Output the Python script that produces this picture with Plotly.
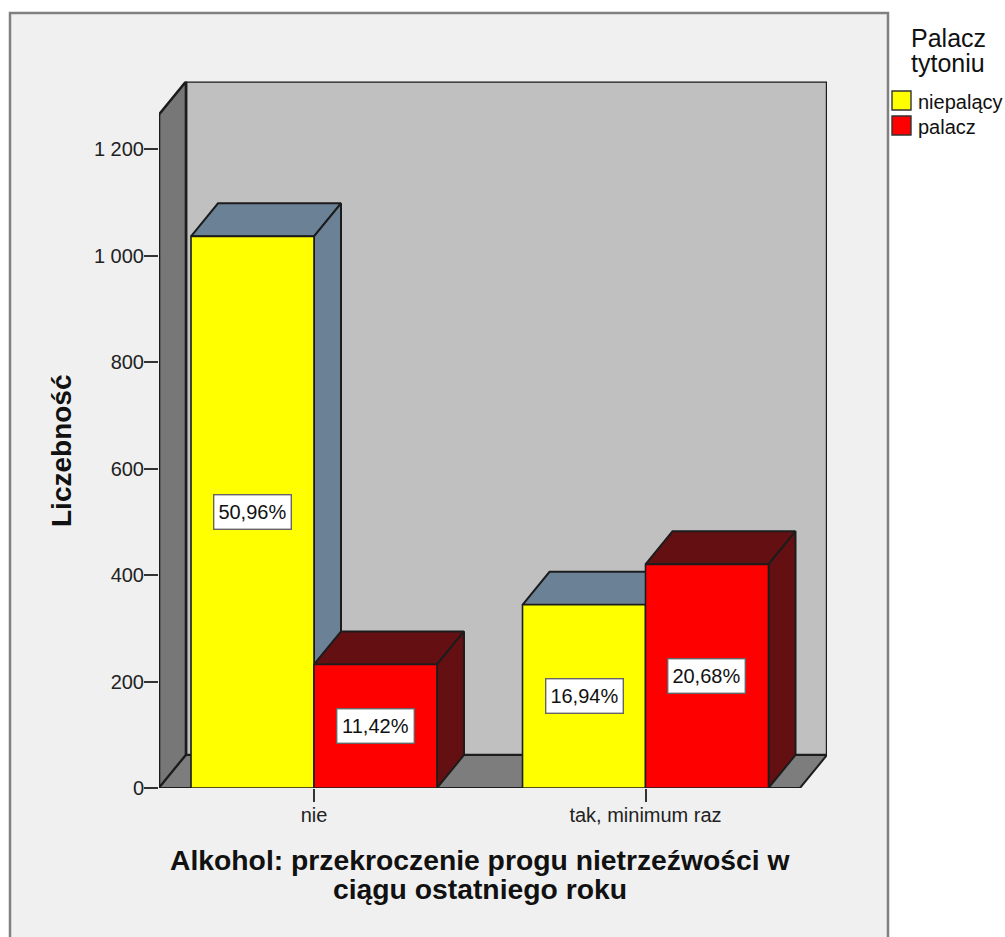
import plotly.graph_objects as go

categories = ["nie", "tak, minimum raz"]
series_names = ["niepalący", "palacz"]
nonsmoker = [1036, 344]
smoker = [232, 420]
nonsmoker_pct = ["50,96%", "16,94%"]
smoker_pct = ["11,42%", "20,68%"]
y_ticks = [0, 200, 400, 600, 800, 1000, 1200]
y_tick_labels = ["0", "200", "400", "600", "800", "1 000", "1 200"]
x_title_lines = ["Alkohol: przekroczenie progu nietrzeźwości w", "ciągu ostatniego roku"]
legend_title_lines = ["Palacz", "tytoniu"]

W, H = 1005, 937
PX_L, PX_R, PX_T, PX_B = 159, 827, 81.5, 788
CAT_SPACING = 331.5          # px between categories
VAL_PX = 0.5325              # px per count
BAR_W = 0.371                # category units
DX = 27 / CAT_SPACING        # 3D depth in category units
DY = 33 / VAL_PX             # 3D depth in count units
X_MIN = (PX_L - 314) / CAT_SPACING
X_MAX = (PX_R - 314) / CAT_SPACING
Y_MAX = (PX_B - PX_T) / VAL_PX
WALL_H = Y_MAX - DY
FRONT_R = X_MAX - DX

EDGE = "#1c1c1c"
COL_FRONT = ["#ffff00", "#ff0000"]
COL_SIDE = ["#6b8196", "#640f12"]


def poly(xs, ys, fill, width=2, edge=EDGE):
    return go.Scatter(
        x=xs, y=ys, mode="lines", fill="toself", fillcolor=fill,
        line=dict(color=edge, width=width), hoverinfo="skip",
        showlegend=False, cliponaxis=False, xaxis="x", yaxis="y",
    )


def note(px, py, text, size, **kw):
    fig.add_annotation(xref="paper", yref="paper", x=px / W, y=(H - py) / H, text=text,
                       showarrow=False, yanchor="middle",
                       xanchor=kw.pop("xanchor", "center"),
                       font=dict(size=size, color="#111111"), **kw)


fig = go.Figure()

# walls and floor
fig.add_trace(poly([X_MIN + DX, X_MAX, X_MAX, X_MIN + DX, X_MIN + DX],
                   [DY, DY, Y_MAX, Y_MAX, DY], "#c0c0c0", 2.4))
fig.add_trace(poly([X_MIN, X_MIN + DX, X_MIN + DX, X_MIN, X_MIN],
                   [0, DY, Y_MAX, WALL_H, 0], "#777777", 2.6))
fig.add_trace(poly([X_MIN, X_MIN + DX, X_MAX, FRONT_R, X_MIN],
                   [0, DY, DY, 0, 0], "#7d7d7d", 2))

# top and side faces of each bar
for s, vals in enumerate([nonsmoker, smoker]):
    for c, v in enumerate(vals):
        x0 = c - BAR_W + s * BAR_W
        x1 = x0 + BAR_W
        fig.add_trace(poly([x0, x0 + DX, x1 + DX, x1, x0],
                           [v, v + DY, v + DY, v, v], COL_SIDE[s]))
        fig.add_trace(poly([x1, x1 + DX, x1 + DX, x1, x1],
                           [0, DY, v + DY, v, 0], COL_SIDE[s]))

# front faces on an overlaid subplot so they cover the side faces
for s, (name, vals) in enumerate(zip(series_names, [nonsmoker, smoker])):
    fig.add_trace(go.Bar(
        x=[0, 1], y=vals, name=name, width=BAR_W,
        offset=-BAR_W if s == 0 else 0,
        marker=dict(color=COL_FRONT[s], line=dict(color=EDGE, width=1.6)),
        cliponaxis=False, xaxis="x2", yaxis="y2", showlegend=False,
        hovertemplate="%{y}<extra>" + name + "</extra>",
    ))

dom_x = [PX_L / W, PX_R / W]
dom_y = [(H - PX_B) / H, (H - PX_T) / H]
axis_font = dict(family="Liberation Sans", color="#222222")

fig.update_layout(
    width=W, height=H, margin=dict(l=0, r=0, t=0, b=0, autoexpand=False),
    paper_bgcolor="white", plot_bgcolor="rgba(0,0,0,0)",
    font=dict(family="Liberation Sans", color="#111111"),
    barmode="overlay", showlegend=False,
    xaxis=dict(domain=dom_x, range=[X_MIN, X_MAX], tickvals=[0, 1], ticktext=categories,
               ticks="outside", ticklen=13, tickwidth=1.8, tickcolor="#333333",
               ticklabelstandoff=-4,
               showgrid=False, zeroline=False, showline=False,
               tickfont=dict(size=20, **axis_font)),
    yaxis=dict(domain=dom_y, range=[0, Y_MAX], tickvals=y_ticks, ticktext=y_tick_labels,
               ticks="outside", ticklen=14, tickwidth=1.8, tickcolor="#333333",
               ticklabelstandoff=-4,
               showgrid=False, zeroline=False, showline=False,
               tickfont=dict(size=20, **axis_font)),
    xaxis2=dict(domain=dom_x, range=[X_MIN, X_MAX], overlaying="x", visible=False),
    yaxis2=dict(domain=dom_y, range=[0, Y_MAX], overlaying="y", visible=False),
)

# outer chart frame
fig.add_shape(type="rect", xref="paper", yref="paper", layer="below",
              x0=10 / W, x1=888 / W, y0=-0.02, y1=(H - 13) / H,
              fillcolor="#f0f0f0", line=dict(color="#808080", width=2.5))

# value labels
for s, (vals, labels) in enumerate([(nonsmoker, nonsmoker_pct), (smoker, smoker_pct)]):
    for c, (v, t) in enumerate(zip(vals, labels)):
        fig.add_annotation(x=c - BAR_W / 2 + s * BAR_W, y=v / 2, xref="x", yref="y",
                           text=t, showarrow=False, bgcolor="white",
                           bordercolor="#666666", borderwidth=1.4, width=74, height=31,
                           font=dict(size=20, color="#111111"))

# axis titles
for line, py in zip(x_title_lines, [860, 889]):
    note(480, py, "<b>" + line + "</b>", 28.3)
note(61, 451, "<b>Liczebność</b>", 28, textangle=-90)

# legend
for line, py in zip(legend_title_lines, [38, 63]):
    note(948, py, line, 25)
for s, name in enumerate(series_names):
    top = 91 + s * 25
    fig.add_shape(type="rect", xref="paper", yref="paper",
                  x0=892 / W, x1=911 / W, y0=(H - top - 19) / H, y1=(H - top) / H,
                  fillcolor=COL_FRONT[s], line=dict(color="#333333", width=1.4))
    note(916, top + 11, name, 20, xanchor="left")

fig.write_html("out.html", config={"displayModeBar": False},
               post_script="document.body.style.margin='0';document.body.style.overflow='hidden';")
